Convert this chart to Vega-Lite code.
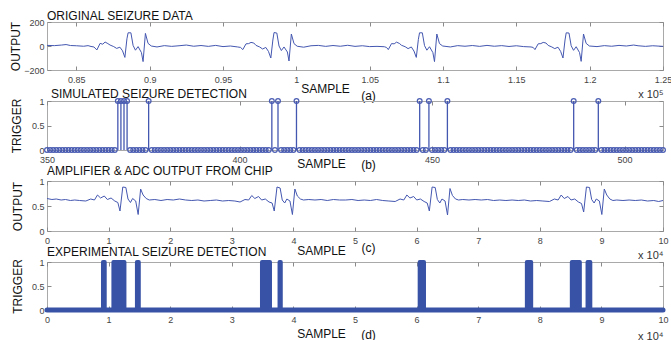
{
"$schema": "https://vega.github.io/schema/vega-lite/v6.json",
"autosize": "none",
"padding": {"left": 47, "top": 22, "right": 624, "bottom": 318},
"background": "white",
"bounds": "flush",
"spacing": 31,
"config": {
  "font": "Liberation Sans",
  "view": {"stroke": "#a9a9a9", "strokeWidth": 1},
  "axis": {"grid": false, "domain": false, "labelFontSize": 9, "labelColor": "#444444", "labelFont": "Liberation Sans", "titleFont": "Liberation Sans", "titleFontSize": 12, "titleFontWeight": "normal", "titleColor": "#111111", "tickColor": "#8a8a8a", "labelFlush": false, "labelOverlap": false, "labelBound": false},
  "title": {"font": "Liberation Sans", "fontSize": 12, "fontWeight": "normal", "color": "#111111", "anchor": "start", "frame": "group"}
},
"datasets": {
  "p1": [
    {"s":83000,"v":5},{"s":83500,"v":3},{"s":84000,"v":8},{"s":84300,"v":12},{"s":84600,"v":4},{"s":85000,"v":2},{"s":85500,"v":-2},{"s":85800,"v":3},{"s":86000,"v":-4},{"s":86200,"v":-8},
    {"s":86400,"v":-33},{"s":86620,"v":22},{"s":86800,"v":15},{"s":86960,"v":33},{"s":87150,"v":20},{"s":87300,"v":8},{"s":87550,"v":-5},{"s":87750,"v":-20},{"s":87970,"v":-10},{"s":88150,"v":-40},{"s":88310,"v":-95},{"s":88450,"v":60},{"s":88530,"v":110},{"s":88720,"v":110},{"s":88870,"v":5},{"s":89030,"v":-35},{"s":89210,"v":-5},{"s":89440,"v":-55},{"s":89550,"v":-130},{"s":89710,"v":105},{"s":89890,"v":22},{"s":90110,"v":0},
    {"s":90500,"v":-8},{"s":91000,"v":3},{"s":91500,"v":-3},{"s":92000,"v":2},{"s":92500,"v":8},{"s":93000,"v":-2},{"s":93500,"v":4},{"s":94000,"v":-3},{"s":94500,"v":5},{"s":95000,"v":-5},{"s":95500,"v":0},{"s":96000,"v":-8},{"s":96200,"v":-12},
    {"s":96350,"v":-30},{"s":96570,"v":18},{"s":96750,"v":20},{"s":96910,"v":30},{"s":97100,"v":25},{"s":97250,"v":5},{"s":97500,"v":-8},{"s":97700,"v":-25},{"s":97920,"v":-12},{"s":98100,"v":-45},{"s":98260,"v":-100},{"s":98400,"v":50},{"s":98480,"v":112},{"s":98670,"v":108},{"s":98820,"v":0},{"s":98980,"v":-38},{"s":99160,"v":-8},{"s":99390,"v":-50},{"s":99500,"v":-125},{"s":99660,"v":100},{"s":99840,"v":20},{"s":100060,"v":-2},
    {"s":100500,"v":-10},{"s":101000,"v":2},{"s":101500,"v":5},{"s":102000,"v":-3},{"s":102500,"v":4},{"s":103000,"v":-2},{"s":103500,"v":6},{"s":104000,"v":-3},{"s":104500,"v":2},{"s":105000,"v":-5},{"s":105500,"v":-3},{"s":106000,"v":-6},{"s":106150,"v":-12},
    {"s":106270,"v":-30},{"s":106490,"v":20},{"s":106670,"v":18},{"s":106830,"v":32},{"s":107020,"v":22},{"s":107170,"v":6},{"s":107420,"v":-6},{"s":107620,"v":-22},{"s":107840,"v":-8},{"s":108020,"v":-42},{"s":108180,"v":-95},{"s":108320,"v":55},{"s":108400,"v":110},{"s":108590,"v":110},{"s":108740,"v":3},{"s":108900,"v":-35},{"s":109080,"v":-6},{"s":109310,"v":-55},{"s":109420,"v":-130},{"s":109580,"v":100},{"s":109760,"v":20},{"s":109980,"v":0},
    {"s":110500,"v":-8},{"s":111000,"v":3},{"s":111500,"v":-2},{"s":112000,"v":4},{"s":112500,"v":-3},{"s":113000,"v":5},{"s":113500,"v":-2},{"s":114000,"v":3},{"s":114500,"v":-4},{"s":115000,"v":2},{"s":115500,"v":-5},{"s":116000,"v":-8},{"s":116150,"v":-12},
    {"s":116270,"v":-30},{"s":116490,"v":18},{"s":116670,"v":20},{"s":116830,"v":30},{"s":117020,"v":25},{"s":117170,"v":5},{"s":117420,"v":-8},{"s":117620,"v":-22},{"s":117840,"v":-10},{"s":118020,"v":-45},{"s":118180,"v":-100},{"s":118320,"v":50},{"s":118400,"v":110},{"s":118590,"v":108},{"s":118740,"v":2},{"s":118900,"v":-36},{"s":119080,"v":-6},{"s":119310,"v":-55},{"s":119420,"v":-128},{"s":119580,"v":100},{"s":119760,"v":22},{"s":119980,"v":0},
    {"s":120500,"v":-5},{"s":121000,"v":3},{"s":121500,"v":-2},{"s":122000,"v":5},{"s":122500,"v":0},{"s":123000,"v":8},{"s":123300,"v":2},{"s":123800,"v":-3},{"s":124300,"v":2},{"s":125000,"v":-3}
  ],
  "p2": [
    {"s":350,"t":0},{"s":350.8,"t":0},{"s":351.6,"t":0},{"s":352.4,"t":0},{"s":353.2,"t":0},
    {"s":354,"t":0},{"s":354.8,"t":0},{"s":355.6,"t":0},{"s":356.4,"t":0},{"s":357.2,"t":0},
    {"s":358,"t":0},{"s":358.8,"t":0},{"s":359.6,"t":0},{"s":360.4,"t":0},{"s":361.2,"t":0},
    {"s":362,"t":0},{"s":362.8,"t":0},{"s":363.6,"t":0},{"s":364.4,"t":0},{"s":365.2,"t":0},
    {"s":366,"t":0},{"s":366.8,"t":0},{"s":367.6,"t":0},{"s":368.4,"t":1},{"s":369.2,"t":1},
    {"s":370,"t":1},{"s":370.8,"t":1},{"s":371.6,"t":0},{"s":372.4,"t":0},{"s":373.2,"t":0},
    {"s":374,"t":0},{"s":374.8,"t":0},{"s":375.6,"t":0},{"s":376.4,"t":1},{"s":377.2,"t":0},
    {"s":378,"t":0},{"s":378.8,"t":0},{"s":379.6,"t":0},{"s":380.4,"t":0},{"s":381.2,"t":0},
    {"s":382,"t":0},{"s":382.8,"t":0},{"s":383.6,"t":0},{"s":384.4,"t":0},{"s":385.2,"t":0},
    {"s":386,"t":0},{"s":386.8,"t":0},{"s":387.6,"t":0},{"s":388.4,"t":0},{"s":389.2,"t":0},
    {"s":390,"t":0},{"s":390.8,"t":0},{"s":391.6,"t":0},{"s":392.4,"t":0},{"s":393.2,"t":0},
    {"s":394,"t":0},{"s":394.8,"t":0},{"s":395.6,"t":0},{"s":396.4,"t":0},{"s":397.2,"t":0},
    {"s":398,"t":0},{"s":398.8,"t":0},{"s":399.6,"t":0},{"s":400.4,"t":0},{"s":401.2,"t":0},
    {"s":402,"t":0},{"s":402.8,"t":0},{"s":403.6,"t":0},{"s":404.4,"t":0},{"s":405.2,"t":0},
    {"s":406,"t":0},{"s":406.8,"t":0},{"s":407.6,"t":0},{"s":408.4,"t":1},{"s":409.2,"t":0},
    {"s":410,"t":1},{"s":410.8,"t":0},{"s":411.6,"t":0},{"s":412.4,"t":0},{"s":413.2,"t":0},
    {"s":414,"t":0},{"s":414.8,"t":1},{"s":415.6,"t":0},{"s":416.4,"t":0},{"s":417.2,"t":0},
    {"s":418,"t":0},{"s":418.8,"t":0},{"s":419.6,"t":0},{"s":420.4,"t":0},{"s":421.2,"t":0},
    {"s":422,"t":0},{"s":422.8,"t":0},{"s":423.6,"t":0},{"s":424.4,"t":0},{"s":425.2,"t":0},
    {"s":426,"t":0},{"s":426.8,"t":0},{"s":427.6,"t":0},{"s":428.4,"t":0},{"s":429.2,"t":0},
    {"s":430,"t":0},{"s":430.8,"t":0},{"s":431.6,"t":0},{"s":432.4,"t":0},{"s":433.2,"t":0},
    {"s":434,"t":0},{"s":434.8,"t":0},{"s":435.6,"t":0},{"s":436.4,"t":0},{"s":437.2,"t":0},
    {"s":438,"t":0},{"s":438.8,"t":0},{"s":439.6,"t":0},{"s":440.4,"t":0},{"s":441.2,"t":0},
    {"s":442,"t":0},{"s":442.8,"t":0},{"s":443.6,"t":0},{"s":444.4,"t":0},{"s":445.2,"t":0},
    {"s":446,"t":0},{"s":446.8,"t":1},{"s":447.6,"t":0},{"s":448.4,"t":0},{"s":449.2,"t":1},
    {"s":450,"t":0},{"s":450.8,"t":0},{"s":451.6,"t":0},{"s":452.4,"t":0},{"s":453.2,"t":0},
    {"s":454,"t":1},{"s":454.8,"t":0},{"s":455.6,"t":0},{"s":456.4,"t":0},{"s":457.2,"t":0},
    {"s":458,"t":0},{"s":458.8,"t":0},{"s":459.6,"t":0},{"s":460.4,"t":0},{"s":461.2,"t":0},
    {"s":462,"t":0},{"s":462.8,"t":0},{"s":463.6,"t":0},{"s":464.4,"t":0},{"s":465.2,"t":0},
    {"s":466,"t":0},{"s":466.8,"t":0},{"s":467.6,"t":0},{"s":468.4,"t":0},{"s":469.2,"t":0},
    {"s":470,"t":0},{"s":470.8,"t":0},{"s":471.6,"t":0},{"s":472.4,"t":0},{"s":473.2,"t":0},
    {"s":474,"t":0},{"s":474.8,"t":0},{"s":475.6,"t":0},{"s":476.4,"t":0},{"s":477.2,"t":0},
    {"s":478,"t":0},{"s":478.8,"t":0},{"s":479.6,"t":0},{"s":480.4,"t":0},{"s":481.2,"t":0},
    {"s":482,"t":0},{"s":482.8,"t":0},{"s":483.6,"t":0},{"s":484.4,"t":0},{"s":485.2,"t":0},
    {"s":486,"t":0},{"s":486.8,"t":1},{"s":487.6,"t":0},{"s":488.4,"t":0},{"s":489.2,"t":0},
    {"s":490,"t":0},{"s":490.8,"t":0},{"s":491.6,"t":0},{"s":492.4,"t":0},{"s":493.2,"t":1},
    {"s":494,"t":0},{"s":494.8,"t":0},{"s":495.6,"t":0},{"s":496.4,"t":0},{"s":497.2,"t":0},
    {"s":498,"t":0},{"s":498.8,"t":0},{"s":499.6,"t":0},{"s":500.4,"t":0},{"s":501.2,"t":0},
    {"s":502,"t":0},{"s":502.8,"t":0},{"s":503.6,"t":0},{"s":504.4,"t":0},{"s":505.2,"t":0},
    {"s":506,"t":0},{"s":506.8,"t":0},{"s":507.6,"t":0},{"s":508.4,"t":0},{"s":509.2,"t":0},
    {"s":510,"t":0}
  ],
  "p3": [
    {"s":0,"v":0.65},{"s":800,"v":0.63},{"s":1500,"v":0.64},{"s":2300,"v":0.62},{"s":3000,"v":0.63},{"s":3800,"v":0.61},{"s":4500,"v":0.62},{"s":5300,"v":0.61},
    {"s":6300,"v":0.60},{"s":7100,"v":0.64},{"s":7700,"v":0.62},{"s":8200,"v":0.72},{"s":8700,"v":0.66},{"s":9300,"v":0.70},{"s":9800,"v":0.63},{"s":10400,"v":0.66},{"s":11000,"v":0.60},{"s":11500,"v":0.57},{"s":11850,"v":0.40},{"s":12300,"v":0.88},{"s":12800,"v":0.87},{"s":13150,"v":0.64},{"s":13550,"v":0.57},{"s":13900,"v":0.65},{"s":14400,"v":0.60},{"s":14800,"v":0.33},{"s":15200,"v":0.84},{"s":15600,"v":0.72},{"s":16100,"v":0.65},{"s":16600,"v":0.62},
    {"s":17500,"v":0.63},{"s":18500,"v":0.61},{"s":19500,"v":0.63},{"s":20500,"v":0.62},{"s":21500,"v":0.64},{"s":22500,"v":0.62},{"s":23500,"v":0.61},{"s":24500,"v":0.62},{"s":25500,"v":0.60},{"s":26500,"v":0.61},{"s":27500,"v":0.62},{"s":28500,"v":0.60},{"s":29500,"v":0.61},{"s":30500,"v":0.60},
    {"s":31340,"v":0.58},{"s":32140,"v":0.63},{"s":32740,"v":0.62},{"s":33240,"v":0.71},{"s":33740,"v":0.65},{"s":34340,"v":0.69},{"s":34840,"v":0.62},{"s":35440,"v":0.64},{"s":36040,"v":0.58},{"s":36540,"v":0.56},{"s":36890,"v":0.40},{"s":37340,"v":0.88},{"s":37840,"v":0.86},{"s":38190,"v":0.62},{"s":38590,"v":0.56},{"s":38940,"v":0.64},{"s":39440,"v":0.60},{"s":39840,"v":0.33},{"s":40240,"v":0.84},{"s":40640,"v":0.70},{"s":41140,"v":0.64},{"s":41640,"v":0.62},
    {"s":42500,"v":0.63},{"s":43500,"v":0.62},{"s":44500,"v":0.63},{"s":45500,"v":0.61},{"s":46500,"v":0.63},{"s":47500,"v":0.62},{"s":48500,"v":0.62},{"s":49500,"v":0.63},{"s":50500,"v":0.61},{"s":51500,"v":0.62},{"s":52500,"v":0.61},{"s":53500,"v":0.63},{"s":54500,"v":0.61},{"s":55500,"v":0.60},
    {"s":56520,"v":0.59},{"s":57320,"v":0.64},{"s":57920,"v":0.62},{"s":58420,"v":0.72},{"s":58920,"v":0.66},{"s":59520,"v":0.69},{"s":60020,"v":0.62},{"s":60620,"v":0.64},{"s":61220,"v":0.59},{"s":61720,"v":0.56},{"s":62070,"v":0.40},{"s":62520,"v":0.88},{"s":63020,"v":0.87},{"s":63370,"v":0.63},{"s":63770,"v":0.56},{"s":64120,"v":0.64},{"s":64620,"v":0.60},{"s":65020,"v":0.32},{"s":65420,"v":0.85},{"s":65820,"v":0.71},{"s":66320,"v":0.64},{"s":66820,"v":0.62},
    {"s":67500,"v":0.63},{"s":68500,"v":0.62},{"s":69500,"v":0.63},{"s":70500,"v":0.62},{"s":71500,"v":0.63},{"s":72500,"v":0.61},{"s":73500,"v":0.62},{"s":74500,"v":0.61},{"s":75500,"v":0.62},{"s":76500,"v":0.61},{"s":77500,"v":0.62},{"s":78500,"v":0.60},{"s":79500,"v":0.61},{"s":80500,"v":0.60},
    {"s":81570,"v":0.59},{"s":82370,"v":0.64},{"s":82970,"v":0.62},{"s":83470,"v":0.72},{"s":83970,"v":0.65},{"s":84570,"v":0.69},{"s":85070,"v":0.62},{"s":85670,"v":0.64},{"s":86270,"v":0.58},{"s":86770,"v":0.55},{"s":87120,"v":0.38},{"s":87570,"v":0.88},{"s":88070,"v":0.87},{"s":88420,"v":0.63},{"s":88820,"v":0.56},{"s":89170,"v":0.64},{"s":89670,"v":0.60},{"s":90070,"v":0.33},{"s":90470,"v":0.84},{"s":90870,"v":0.72},{"s":91370,"v":0.64},{"s":91870,"v":0.61},
    {"s":92500,"v":0.62},{"s":93500,"v":0.61},{"s":94500,"v":0.62},{"s":95500,"v":0.61},{"s":96500,"v":0.62},{"s":97500,"v":0.60},{"s":98500,"v":0.61},{"s":99300,"v":0.59},{"s":100000,"v":0.61}
  ],
  "p4": [
    {"a":9090,"b":9370},{"a":10780,"b":12570},{"a":14600,"b":14900},{"a":34900,"b":36200},{"a":37750,"b":37950},{"a":60500,"b":61200},{"a":77900,"b":78600},{"a":85200,"b":86500},{"a":87750,"b":88200}
  ],
  "p4base": [{"a":0,"b":100000}],
  "d1": [{"s":100000,"v":0}],
  "d2": [{"s":400,"t":0}],
  "d3": [{"s":50000,"v":0.5}],
  "d4": [{"a":50000,"t":0.5}]
},
"vconcat": [
  {
    "width": 616, "height": 48,
    "title": {"text": "ORIGINAL SEIZURE DATA", "offset": -5},
    "resolve": {"axis": {"x": "independent", "y": "independent"}},
    "layer": [
      {
        "data": {"name": "p1"},
        "mark": {"type": "line", "color": "#4457b0", "strokeWidth": 1},
        "encoding": {
          "x": {"field": "s", "type": "quantitative", "scale": {"domain": [83000, 125000], "nice": false, "zero": false},
                "axis": {"orient": "bottom", "values": [85000, 90000, 95000, 100000, 105000, 110000, 115000, 120000, 125000], "labelExpr": "datum.value / 100000", "tickSize": -4, "labelPadding": 9, "title": "SAMPLE", "titleX": 278, "titleY": 22, "titleAlign": "center", "titleBaseline": "alphabetic"}},
          "y": {"field": "v", "type": "quantitative", "scale": {"domain": [-200, 200], "nice": false, "zero": false},
                "axis": {"orient": "left", "values": [-200, 0, 200], "tickSize": -4, "labelPadding": 7, "title": "OUTPUT", "titleX": -32, "titleY": 24, "titleAngle": 270, "titleAlign": "center", "titleBaseline": "middle"}}
        }
      },
      {
        "data": {"name": "d1"},
        "mark": {"type": "point", "opacity": 0},
        "encoding": {
          "x": {"field": "s", "type": "quantitative", "scale": {"domain": [83000, 125000], "nice": false, "zero": false},
                "axis": {"orient": "top", "values": [85000, 90000, 95000, 100000, 105000, 110000, 115000, 120000, 125000], "labels": false, "tickSize": -4, "title": null}},
          "y": {"field": "v", "type": "quantitative", "scale": {"domain": [-200, 200], "nice": false, "zero": false},
                "axis": {"orient": "right", "values": [-200, 0, 200], "labels": false, "tickSize": -4, "title": null}}
        }
      },
      {
        "data": {"name": "d1"},
        "mark": {"type": "point", "opacity": 0},
        "encoding": {
          "x": {"field": "s", "type": "quantitative", "scale": {"domain": [83000, 125000], "nice": false, "zero": false},
                "axis": {"orient": "bottom", "labels": false, "ticks": false, "title": "(a)", "titleX": 321, "titleY": 29, "titleAlign": "center", "titleBaseline": "alphabetic"}},
          "y": {"field": "v", "type": "quantitative", "scale": {"domain": [-200, 200], "nice": false, "zero": false}, "axis": null}
        }
      },
      {
        "data": {"name": "d1"},
        "mark": {"type": "point", "opacity": 0},
        "encoding": {
          "x": {"field": "s", "type": "quantitative", "scale": {"domain": [83000, 125000], "nice": false, "zero": false},
                "axis": {"orient": "bottom", "labels": false, "ticks": false, "title": "x 10⁵", "titleX": 616, "titleY": 27, "titleAlign": "right", "titleBaseline": "alphabetic", "titleFontSize": 11, "titleColor": "#333333"}},
          "y": {"field": "v", "type": "quantitative", "scale": {"domain": [-200, 200], "nice": false, "zero": false}, "axis": null}
        }
      }
    ]
  },
  {
    "width": 616, "height": 49,
    "title": {"text": "SIMULATED SEIZURE DETECTION", "offset": -5, "dx": 4},
    "resolve": {"axis": {"x": "independent", "y": "independent"}},
    "layer": [
      {
        "data": {"name": "p2"},
        "mark": {"type": "rule", "color": "#4457b0", "strokeWidth": 1.3},
        "encoding": {
          "x": {"field": "s", "type": "quantitative", "scale": {"domain": [350, 510], "nice": false, "zero": false},
                "axis": {"orient": "bottom", "values": [350, 400, 450, 500], "tickSize": -4, "labelPadding": 9, "title": "SAMPLE", "titleX": 274, "titleY": 17, "titleAlign": "center", "titleBaseline": "alphabetic"}},
          "y": {"field": "t", "type": "quantitative", "scale": {"domain": [0, 1], "nice": false, "zero": false},
                "axis": {"orient": "left", "values": [0, 0.5, 1], "format": "~g", "tickSize": -4, "labelPadding": 7, "title": "TRIGGER", "titleX": -31, "titleY": 24.5, "titleAngle": 270, "titleAlign": "center", "titleBaseline": "middle"}},
          "y2": {"datum": 0}
        }
      },
      {
        "data": {"name": "p2"},
        "mark": {"type": "point", "shape": "circle", "size": 22, "filled": false, "strokeWidth": 1.3, "color": "#4457b0", "opacity": 0.95},
        "encoding": {
          "x": {"field": "s", "type": "quantitative", "scale": {"domain": [350, 510], "nice": false, "zero": false}, "axis": null},
          "y": {"field": "t", "type": "quantitative", "scale": {"domain": [0, 1], "nice": false, "zero": false}, "axis": null}
        }
      },
      {
        "data": {"name": "d2"},
        "mark": {"type": "point", "opacity": 0},
        "encoding": {
          "x": {"field": "s", "type": "quantitative", "scale": {"domain": [350, 510], "nice": false, "zero": false},
                "axis": {"orient": "top", "values": [350, 400, 450, 500], "labels": false, "tickSize": -4, "title": null}},
          "y": {"field": "t", "type": "quantitative", "scale": {"domain": [0, 1], "nice": false, "zero": false},
                "axis": {"orient": "right", "values": [0, 0.5, 1], "labels": false, "tickSize": -4, "title": null}}
        }
      },
      {
        "data": {"name": "d2"},
        "mark": {"type": "point", "opacity": 0},
        "encoding": {
          "x": {"field": "s", "type": "quantitative", "scale": {"domain": [350, 510], "nice": false, "zero": false},
                "axis": {"orient": "bottom", "labels": false, "ticks": false, "title": "(b)", "titleX": 321, "titleY": 18, "titleAlign": "center", "titleBaseline": "alphabetic"}},
          "y": {"field": "t", "type": "quantitative", "scale": {"domain": [0, 1], "nice": false, "zero": false}, "axis": null}
        }
      }
    ]
  },
  {
    "width": 616, "height": 50,
    "title": {"text": "AMPLIFIER & ADC OUTPUT FROM CHIP", "offset": -1},
    "resolve": {"axis": {"x": "independent", "y": "independent"}},
    "layer": [
      {
        "data": {"name": "p3"},
        "mark": {"type": "line", "color": "#4457b0", "strokeWidth": 1},
        "encoding": {
          "x": {"field": "s", "type": "quantitative", "scale": {"domain": [0, 100000], "nice": false, "zero": false},
                "axis": {"orient": "bottom", "values": [0, 10000, 20000, 30000, 40000, 50000, 60000, 70000, 80000, 90000, 100000], "labelExpr": "datum.value / 10000", "tickSize": -4, "labelPadding": 9, "title": "SAMPLE", "titleX": 274, "titleY": 23, "titleAlign": "center", "titleBaseline": "alphabetic"}},
          "y": {"field": "v", "type": "quantitative", "scale": {"domain": [0, 1], "nice": false, "zero": false},
                "axis": {"orient": "left", "values": [0, 0.5, 1], "format": "~g", "tickSize": -4, "labelPadding": 7, "title": "OUTPUT", "titleX": -30, "titleY": 25, "titleAngle": 270, "titleAlign": "center", "titleBaseline": "middle"}}
        }
      },
      {
        "data": {"name": "d3"},
        "mark": {"type": "point", "opacity": 0},
        "encoding": {
          "x": {"field": "s", "type": "quantitative", "scale": {"domain": [0, 100000], "nice": false, "zero": false},
                "axis": {"orient": "top", "values": [0, 10000, 20000, 30000, 40000, 50000, 60000, 70000, 80000, 90000, 100000], "labels": false, "tickSize": -4, "title": null}},
          "y": {"field": "v", "type": "quantitative", "scale": {"domain": [0, 1], "nice": false, "zero": false},
                "axis": {"orient": "right", "values": [0, 0.5, 1], "labels": false, "tickSize": -4, "title": null}}
        }
      },
      {
        "data": {"name": "d3"},
        "mark": {"type": "point", "opacity": 0},
        "encoding": {
          "x": {"field": "s", "type": "quantitative", "scale": {"domain": [0, 100000], "nice": false, "zero": false},
                "axis": {"orient": "bottom", "labels": false, "ticks": false, "title": "(c)", "titleX": 321, "titleY": 20, "titleAlign": "center", "titleBaseline": "alphabetic"}},
          "y": {"field": "v", "type": "quantitative", "scale": {"domain": [0, 1], "nice": false, "zero": false}, "axis": null}
        }
      },
      {
        "data": {"name": "d3"},
        "mark": {"type": "point", "opacity": 0},
        "encoding": {
          "x": {"field": "s", "type": "quantitative", "scale": {"domain": [0, 100000], "nice": false, "zero": false},
                "axis": {"orient": "bottom", "labels": false, "ticks": false, "title": "x 10⁴", "titleX": 616, "titleY": 27, "titleAlign": "right", "titleBaseline": "alphabetic", "titleFontSize": 11, "titleColor": "#333333"}},
          "y": {"field": "v", "type": "quantitative", "scale": {"domain": [0, 1], "nice": false, "zero": false}, "axis": null}
        }
      }
    ]
  },
  {
    "width": 616, "height": 48,
    "title": {"text": "EXPERIMENTAL SEIZURE DETECTION", "offset": -1},
    "resolve": {"axis": {"x": "independent", "y": "independent"}},
    "layer": [
      {
        "data": {"name": "p4base"},
        "mark": {"type": "rule", "color": "#3853a6", "strokeWidth": 5, "strokeCap": "round"},
        "encoding": {
          "x": {"field": "a", "type": "quantitative", "scale": {"domain": [0, 100000], "nice": false, "zero": false}, "axis": null},
          "x2": {"field": "b"},
          "y": {"datum": 0, "type": "quantitative", "scale": {"domain": [0, 1], "nice": false, "zero": false}, "axis": null}
        }
      },
      {
        "data": {"name": "p4"},
        "mark": {"type": "rect", "color": "#3853a6", "stroke": "#3853a6", "strokeWidth": 4, "strokeJoin": "round"},
        "encoding": {
          "x": {"field": "a", "type": "quantitative", "scale": {"domain": [0, 100000], "nice": false, "zero": false}, "axis": null},
          "x2": {"field": "b"},
          "y": {"datum": 0, "type": "quantitative", "scale": {"domain": [0, 1], "nice": false, "zero": false}, "axis": null},
          "y2": {"datum": 1}
        }
      },
      {
        "data": {"name": "d4"},
        "mark": {"type": "point", "opacity": 0},
        "encoding": {
          "x": {"field": "a", "type": "quantitative", "scale": {"domain": [0, 100000], "nice": false, "zero": false},
                "axis": {"orient": "bottom", "values": [0, 10000, 20000, 30000, 40000, 50000, 60000, 70000, 80000, 90000, 100000], "labelExpr": "datum.value / 10000", "tickSize": -4, "labelPadding": 9, "title": "SAMPLE", "titleX": 274, "titleY": 27, "titleAlign": "center", "titleBaseline": "alphabetic"}},
          "y": {"field": "t", "type": "quantitative", "scale": {"domain": [0, 1], "nice": false, "zero": false},
                "axis": {"orient": "left", "values": [0, 0.5, 1], "format": "~g", "tickSize": -4, "labelPadding": 7, "title": "TRIGGER", "titleX": -30, "titleY": 24, "titleAngle": 270, "titleAlign": "center", "titleBaseline": "middle"}}
        }
      },
      {
        "data": {"name": "d4"},
        "mark": {"type": "point", "opacity": 0},
        "encoding": {
          "x": {"field": "a", "type": "quantitative", "scale": {"domain": [0, 100000], "nice": false, "zero": false},
                "axis": {"orient": "top", "values": [0, 10000, 20000, 30000, 40000, 50000, 60000, 70000, 80000, 90000, 100000], "labels": false, "tickSize": -4, "title": null}},
          "y": {"field": "t", "type": "quantitative", "scale": {"domain": [0, 1], "nice": false, "zero": false},
                "axis": {"orient": "right", "values": [0, 0.5, 1], "labels": false, "tickSize": -4, "title": null}}
        }
      },
      {
        "data": {"name": "d4"},
        "mark": {"type": "point", "opacity": 0},
        "encoding": {
          "x": {"field": "a", "type": "quantitative", "scale": {"domain": [0, 100000], "nice": false, "zero": false},
                "axis": {"orient": "bottom", "labels": false, "ticks": false, "title": "(d)", "titleX": 321, "titleY": 28, "titleAlign": "center", "titleBaseline": "alphabetic"}},
          "y": {"field": "t", "type": "quantitative", "scale": {"domain": [0, 1], "nice": false, "zero": false}, "axis": null}
        }
      },
      {
        "data": {"name": "d4"},
        "mark": {"type": "point", "opacity": 0},
        "encoding": {
          "x": {"field": "a", "type": "quantitative", "scale": {"domain": [0, 100000], "nice": false, "zero": false},
                "axis": {"orient": "bottom", "labels": false, "ticks": false, "title": "x 10⁴", "titleX": 616, "titleY": 29, "titleAlign": "right", "titleBaseline": "alphabetic", "titleFontSize": 11, "titleColor": "#333333"}},
          "y": {"field": "t", "type": "quantitative", "scale": {"domain": [0, 1], "nice": false, "zero": false}, "axis": null}
        }
      }
    ]
  }
]
}
